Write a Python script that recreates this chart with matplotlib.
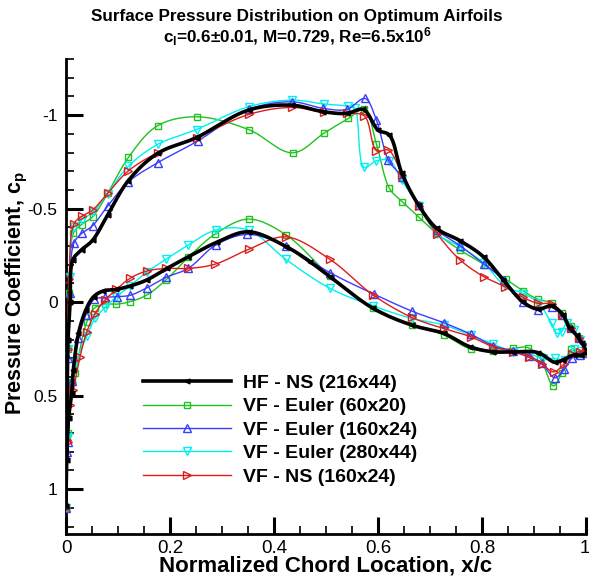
import matplotlib
matplotlib.use("Agg")
import numpy as np
import matplotlib.pyplot as plt
import matplotlib.transforms as mtransforms
from matplotlib.ticker import FixedLocator, FixedFormatter, MultipleLocator

plt.rcParams['font.family'] = ['Liberation Sans', 'DejaVu Sans']
plt.rcParams['mathtext.fontset'] = 'custom'
plt.rcParams['mathtext.rm'] = 'Liberation Sans:bold'
plt.rcParams['mathtext.it'] = 'Liberation Sans:bold'
plt.rcParams['mathtext.bf'] = 'Liberation Sans:bold'
plt.rcParams['mathtext.default'] = 'bf'

# ---------------- data (x/c, Cp) ----------------
labels = ["HF - NS (216x44)", "VF - Euler (60x20)", "VF - Euler (160x24)",
          "VF - Euler (280x44)", "VF - NS (160x24)"]

# HF - NS (216x44)
hf_up_x = [0.0, 0.002, 0.004, 0.008, 0.013, 0.030, 0.051, 0.080, 0.120, 0.176, 0.251, 0.351, 0.434, 0.495,
           0.540, 0.572, 0.600, 0.622, 0.646, 0.678, 0.713, 0.758, 0.803, 0.841, 0.879, 0.908, 0.934, 0.956,
           0.969, 0.982, 0.992, 1.0]
hf_up_cp = [1.09, 0.55, 0.20, 0.0, -0.225, -0.28, -0.33, -0.465, -0.65, -0.795, -0.88, -1.027, -1.053, -1.018,
            -1.009, -1.03, -0.92, -0.893, -0.688, -0.519, -0.394, -0.328, -0.242, -0.118, 0.0, 0.038, 0.02, 0.07,
            0.141, 0.177, 0.22, 0.25]
hf_lo_x = [0.0, 0.001, 0.005, 0.011, 0.014, 0.024, 0.038, 0.053, 0.072, 0.097, 0.123, 0.155, 0.194, 0.235,
           0.290, 0.351, 0.424, 0.469, 0.508, 0.591, 0.665, 0.726, 0.777, 0.822, 0.860, 0.908, 0.940, 0.955,
           0.976, 0.990, 1.0]
hf_lo_cp = [1.09, 0.845, 0.62, 0.487, 0.364, 0.167, 0.043, -0.029, -0.06, -0.068, -0.086, -0.118, -0.18, -0.242,
            -0.32, -0.376, -0.296, -0.216, -0.135, 0.034, 0.123, 0.167, 0.239, 0.266, 0.266, 0.27, 0.322, 0.31,
            0.283, 0.285, 0.27]

# VF - Euler (60x20)
e60_up_x = [0.0, 0.001, 0.003, 0.006, 0.014, 0.030, 0.051, 0.081, 0.120, 0.176, 0.251, 0.351, 0.436, 0.497,
            0.543, 0.574, 0.597, 0.622, 0.647, 0.678, 0.713, 0.758, 0.806, 0.846, 0.879, 0.908, 0.934, 0.953,
            0.972, 0.986, 1.0]
e60_up_cp = [1.10, 0.72, 0.25, -0.05, -0.367, -0.415, -0.456, -0.585, -0.774, -0.943, -0.991, -0.923, -0.798,
             -0.905, -0.982, -1.03, -0.845, -0.608, -0.536, -0.456, -0.367, -0.278, -0.198, -0.123, -0.06, -0.014,
             0.004, 0.06, 0.128, 0.19, 0.24]
e60_lo_x = [0.0, 0.004, 0.011, 0.017, 0.040, 0.056, 0.075, 0.097, 0.123, 0.155, 0.192, 0.235, 0.287, 0.351,
            0.424, 0.508, 0.591, 0.665, 0.727, 0.778, 0.822, 0.860, 0.888, 0.912, 0.937, 0.953, 0.972, 0.986, 1.0]
e60_lo_cp = [1.10, 0.70, 0.426, 0.381, 0.105, 0.029, 0.011, 0.011, -0.002, -0.037, -0.118, -0.239, -0.364,
             -0.444, -0.358, -0.14, 0.034, 0.123, 0.176, 0.251, 0.26, 0.248, 0.243, 0.301, 0.448, 0.381, 0.253,
             0.275, 0.27]

# VF - Euler (160x24)
e160_up_x = [0.0, 0.001, 0.003, 0.007, 0.015, 0.030, 0.051, 0.080, 0.120, 0.176, 0.253, 0.351, 0.434, 0.495,
             0.540, 0.575, 0.597, 0.620, 0.646, 0.678, 0.714, 0.758, 0.804, 0.842, 0.879, 0.908, 0.934, 0.953,
             0.971, 0.986, 1.0]
e160_up_cp = [1.10, 0.80, 0.30, -0.05, -0.314, -0.367, -0.408, -0.513, -0.643, -0.745, -0.861, -1.03, -1.071,
              -1.036, -1.03, -1.089, -0.973, -0.759, -0.67, -0.519, -0.385, -0.301, -0.203, -0.118, 0.0, 0.043,
              0.025, 0.07, 0.14, 0.19, 0.24]
e160_lo_x = [0.0, 0.004, 0.012, 0.024, 0.038, 0.054, 0.075, 0.099, 0.124, 0.156, 0.192, 0.235, 0.288, 0.349,
             0.423, 0.508, 0.592, 0.665, 0.727, 0.778, 0.822, 0.860, 0.891, 0.915, 0.940, 0.958, 0.974, 0.988, 1.0]
e160_lo_cp = [1.10, 0.75, 0.42, 0.194, 0.07, -0.014, -0.025, -0.029, -0.037, -0.077, -0.132, -0.18, -0.305,
              -0.362, -0.30, -0.157, -0.043, 0.048, 0.111, 0.171, 0.234, 0.26, 0.289, 0.328, 0.405, 0.36, 0.297,
              0.283, 0.27]

# VF - Euler (280x44)
e280_up_x = [0.0, 0.001, 0.003, 0.008, 0.015, 0.030, 0.051, 0.080, 0.120, 0.176, 0.251, 0.351, 0.435, 0.497,
             0.543, 0.555, 0.573, 0.597, 0.622, 0.646, 0.678, 0.714, 0.758, 0.804, 0.844, 0.879, 0.908, 0.934,
             0.944, 0.953, 0.963, 0.976, 0.988, 1.0]
e280_up_cp = [1.10, 0.72, 0.25, -0.135, -0.40, -0.44, -0.48, -0.58, -0.727, -0.843, -0.923, -1.045, -1.08,
              -1.059, -1.048, -1.04, -0.72, -0.756, -0.756, -0.652, -0.513, -0.364, -0.296, -0.207, -0.086,
              -0.046, 0.004, 0.114, 0.167, 0.159, 0.114, 0.15, 0.20, 0.24]
e280_lo_x = [0.0, 0.004, 0.012, 0.020, 0.040, 0.056, 0.075, 0.097, 0.123, 0.155, 0.192, 0.235, 0.288, 0.351,
             0.423, 0.508, 0.591, 0.665, 0.727, 0.778, 0.822, 0.860, 0.892, 0.918, 0.940, 0.960, 0.976, 0.990, 1.0]
e280_lo_cp = [1.10, 0.72, 0.45, 0.319, 0.182, 0.087, 0.029, -0.029, -0.086, -0.16, -0.228, -0.305, -0.385,
              -0.385, -0.228, -0.073, 0.021, 0.087, 0.123, 0.177, 0.225, 0.266, 0.278, 0.301, 0.301, 0.307, 0.25,
              0.26, 0.27]

# VF - NS (160x24)
ns160_up_x = [0.0, 0.001, 0.003, 0.006, 0.015, 0.031, 0.051, 0.080, 0.120, 0.176, 0.251, 0.352, 0.435, 0.496,
              0.541, 0.574, 0.597, 0.620, 0.647, 0.678, 0.714, 0.758, 0.804, 0.844, 0.879, 0.908, 0.934, 0.953,
              0.971, 0.986, 1.0]
ns160_up_cp = [1.10, 0.74, 0.25, -0.121, -0.417, -0.46, -0.492, -0.581, -0.702, -0.798, -0.88, -1.004, -1.041,
               -1.014, -1.009, -0.995, -0.809, -0.813, -0.679, -0.513, -0.364, -0.225, -0.135, -0.082, -0.025,
               0.007, 0.01, 0.07, 0.14, 0.19, 0.24]
ns160_lo_x = [0.0, 0.004, 0.008, 0.014, 0.027, 0.040, 0.056, 0.075, 0.097, 0.123, 0.155, 0.192, 0.235, 0.287,
              0.351, 0.423, 0.508, 0.591, 0.665, 0.726, 0.778, 0.822, 0.860, 0.891, 0.915, 0.938, 0.958, 0.974,
              0.988, 1.0]
ns160_lo_cp = [1.10, 0.75, 0.55, 0.471, 0.292, 0.159, 0.061, -0.011, -0.068, -0.127, -0.166, -0.18, -0.18,
               -0.203, -0.282, -0.349, -0.228, -0.037, 0.082, 0.141, 0.185, 0.24, 0.266, 0.296, 0.332, 0.373,
               0.33, 0.28, 0.266, 0.27]

x_ticks = [0, 0.2, 0.4, 0.6, 0.8, 1]
x_tick_labels = ["0", "0.2", "0.4", "0.6", "0.8", "1"]
y_ticks = [-1, -0.5, 0, 0.5, 1]
y_tick_labels = ["-1", "-0.5", "0", "0.5", "1"]

series = [
    (hf_up_x, hf_up_cp, hf_lo_x, hf_lo_cp),
    (e60_up_x, e60_up_cp, e60_lo_x, e60_lo_cp),
    (e160_up_x, e160_up_cp, e160_lo_x, e160_lo_cp),
    (e280_up_x, e280_up_cp, e280_lo_x, e280_lo_cp),
    (ns160_up_x, ns160_up_cp, ns160_lo_x, ns160_lo_cp),
]
styles = [
    dict(color='black', lw=2.6, marker='<', ms=3.5, mfc='black', mec='black', zorder=5),
    dict(color='#1fc21f', lw=1.0, marker='s', ms=5, mfc='none', mec='#1fc21f', mew=1.0, zorder=3),
    dict(color='#3c3cff', lw=1.0, marker='^', ms=5.5, mfc='none', mec='#3c3cff', mew=1.0, zorder=4),
    dict(color='#00f0f0', lw=1.0, marker='v', ms=5.5, mfc='none', mec='#00f0f0', mew=1.0, zorder=3),
    dict(color='#dd1c1c', lw=1.0, marker='>', ms=5.5, mfc='none', mec='#dd1c1c', mew=1.0, zorder=4),
]


def smooth_path(xs, ys, n=10, sx=520.0, sy=187.0):
    """Centripetal Catmull-Rom through the points (rendering only); returns dense path and
    indices of the original points within it."""
    P = np.column_stack([np.asarray(xs) * sx, np.asarray(ys) * sy])
    N = len(P)
    ext = np.vstack([2 * P[0] - P[1], P, 2 * P[-1] - P[-2]])
    out = []
    idx = []
    for i in range(N - 1):
        p0, p1, p2, p3 = ext[i], ext[i + 1], ext[i + 2], ext[i + 3]
        def tj(ti, a, b):
            return ti + max(np.hypot(*(b - a)), 1e-6) ** 0.5
        t0 = 0.0
        t1 = tj(t0, p0, p1)
        t2 = tj(t1, p1, p2)
        t3 = tj(t2, p2, p3)
        idx.append(len(out))
        for t in np.linspace(t1, t2, n, endpoint=False):
            A1 = (t1 - t) / (t1 - t0) * p0 + (t - t0) / (t1 - t0) * p1
            A2 = (t2 - t) / (t2 - t1) * p1 + (t - t1) / (t2 - t1) * p2
            A3 = (t3 - t) / (t3 - t2) * p2 + (t - t2) / (t3 - t2) * p3
            B1 = (t2 - t) / (t2 - t0) * A1 + (t - t0) / (t2 - t0) * A2
            B2 = (t3 - t) / (t3 - t1) * A2 + (t - t1) / (t3 - t1) * A3
            C = (t2 - t) / (t2 - t1) * B1 + (t - t1) / (t2 - t1) * B2
            out.append(C)
    idx.append(len(out))
    out.append(P[-1])
    out = np.array(out)
    return out[:, 0] / sx, out[:, 1] / sy, idx


fig = plt.figure(figsize=(5.89, 5.77), dpi=100)
ax = fig.add_axes([66/589, 43/577, 520/589, 475/577])

handles = []
for (ux, ucp, lx, lcp), st, lab in zip(series, styles, labels):
    xs = list(reversed(ux)) + list(lx[1:])
    cps = list(reversed(ucp)) + list(lcp[1:])
    sx_, sy_, idx = smooth_path(xs, cps)
    h, = ax.plot(sx_, sy_, label=lab, markevery=idx, **st)
    handles.append(h)

ax.set_xlim(0, 1)
ax.set_ylim(1.24, -1.3)

for s in ['top', 'right']:
    ax.spines[s].set_visible(False)
for s in ['left', 'bottom']:
    ax.spines[s].set_linewidth(2.0)

ax.xaxis.set_major_locator(FixedLocator(x_ticks))
ax.xaxis.set_major_formatter(FixedFormatter(x_tick_labels))
ax.xaxis.set_minor_locator(MultipleLocator(0.05))
ax.yaxis.set_major_locator(FixedLocator(y_ticks))
ax.yaxis.set_major_formatter(FixedFormatter(y_tick_labels))
ax.yaxis.set_minor_locator(MultipleLocator(0.1))
ax.tick_params(which='major', direction='in', length=12, width=2.2)
ax.tick_params(which='minor', direction='in', length=6, width=1.2)
ax.tick_params(axis='x', which='major', pad=4, labelsize=13.5)
ax.tick_params(axis='y', which='major', pad=6, labelsize=12.5)

# keep the last x tick label inside the canvas
fig.canvas.draw()
last_lbl = ax.get_xticklabels()[-1]
last_lbl.set_horizontalalignment('right')
last_lbl.set_transform(last_lbl.get_transform() +
                       mtransforms.ScaledTranslation(4/100, 0, fig.dpi_scale_trans))

fig.text(17/589, 1 - 293/577, "Pressure Coefficient, c$_\\mathbf{p}$", rotation=90,
         ha='center', va='center', fontsize=15.5, fontweight='bold')
fig.text(326/589, 1 - 566/577, "Normalized Chord Location, x/c",
         ha='center', va='center', fontsize=16, fontweight='bold')

fig.text(297/589, 1 - 17/577, "Surface Pressure Distribution on Optimum Airfoils",
         ha='center', va='center', fontsize=12.3, fontweight='bold')
fig.text(297/589, 1 - 37/577, "c$_\\mathbf{l}$=0.6\u00b10.01, M=0.729, Re=6.5x10$^\\mathbf{6}$",
         ha='center', va='center', fontsize=12.3, fontweight='bold')

leg = ax.legend(handles=handles, loc='center left', bbox_to_anchor=(143/589, 1 - 430/577),
                bbox_transform=fig.transFigure, frameon=False, borderpad=0, borderaxespad=0,
                handlelength=4.5, handletextpad=0.62, labelspacing=0.3, numpoints=1,
                prop=dict(family='Liberation Sans', weight='bold', size=14))

fig.savefig("out.png", dpi=100)
